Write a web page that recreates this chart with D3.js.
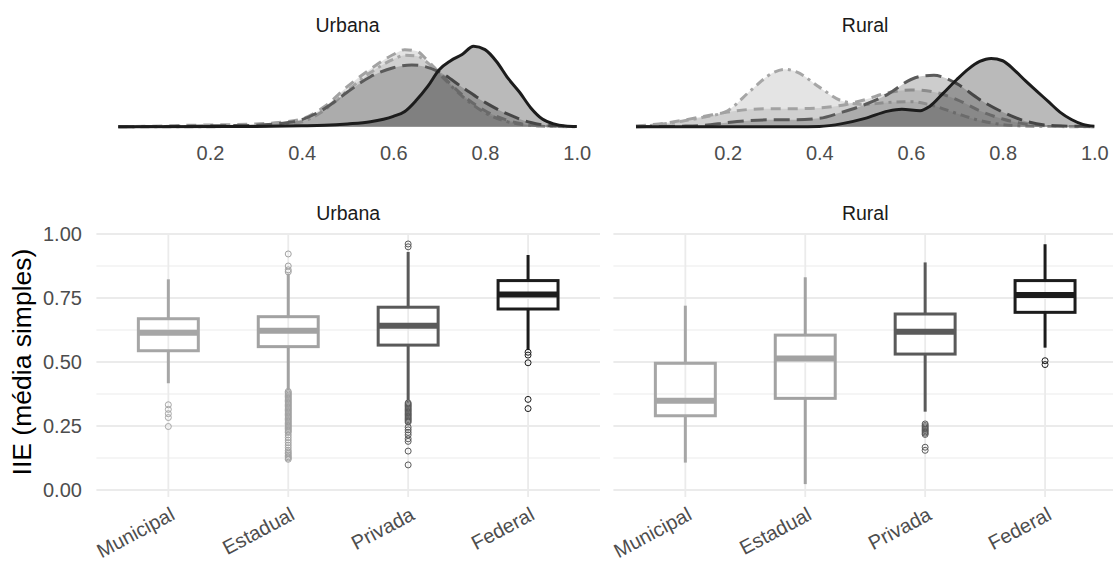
<!DOCTYPE html>
<html>
<head>
<meta charset="utf-8">
<script src="https://cdn.jsdelivr.net/npm/d3@7"></script>
<style>
  body { margin: 0; background: #ffffff; }
  svg { display: block; }
  text { font-family: "Liberation Sans", Arial, sans-serif; }
</style>
</head>
<body>
<svg id="chart" width="1113" height="562"></svg>
<script>
// ---- dados ----
const categorias = ["Municipal", "Estadual", "Privada", "Federal"];
const facetas = ["Urbana", "Rural"];
const ticksDensidade = [0.2, 0.4, 0.6, 0.8, 1.0];
const ticksIIE = [0, 0.25, 0.5, 0.75, 1];
const gradeMenor = [0.125, 0.375, 0.625, 0.875];

// densidades estimadas do IIE: pares [IIE, densidade]
const densUrbanaMunicipal = [[0,0],[0.2,0],[0.25,0.02],[0.3,0.05],[0.35,0.12],[0.4,0.35],[0.45,1.2],[0.5,2.6],[0.55,3.9],[0.6,4.85],[0.625,5.15],[0.65,5.1],[0.675,4.6],[0.7,3.8],[0.75,2.2],[0.8,1.0],[0.85,0.35],[0.9,0.08],[0.95,0.01],[1,0]];
const densUrbanaEstadual = [[0,0.01],[0.1,0.05],[0.15,0.1],[0.2,0.12],[0.25,0.15],[0.3,0.2],[0.35,0.3],[0.4,0.55],[0.45,1.45],[0.5,2.9],[0.55,4.15],[0.6,5.2],[0.625,5.55],[0.65,5.45],[0.675,4.75],[0.7,3.9],[0.75,2.3],[0.8,1.15],[0.85,0.45],[0.9,0.12],[0.95,0.03],[1,0.01]];
const densUrbanaPrivada = [[0,0],[0.1,0.02],[0.15,0.04],[0.2,0.06],[0.25,0.08],[0.3,0.1],[0.35,0.22],[0.4,0.5],[0.45,1.3],[0.5,2.5],[0.55,3.6],[0.6,4.25],[0.64,4.45],[0.7,3.95],[0.75,2.85],[0.8,1.75],[0.85,0.9],[0.9,0.3],[0.95,0.06],[1,0.01]];
const densUrbanaFederal = [[0,0],[0.25,0.01],[0.3,0.02],[0.4,0.06],[0.45,0.1],[0.5,0.2],[0.55,0.36],[0.6,0.75],[0.625,1.1],[0.65,1.9],[0.675,2.9],[0.7,4.1],[0.725,4.75],[0.75,5.2],[0.775,5.8],[0.8,5.55],[0.825,4.7],[0.85,3.5],[0.875,2.5],[0.9,1.35],[0.925,0.55],[0.95,0.2],[0.975,0.05],[1,0.01]];

const densRuralMunicipal = [[0,0.03],[0.05,0.15],[0.1,0.4],[0.15,0.7],[0.2,1.15],[0.25,2.6],[0.3,3.9],[0.325,4.13],[0.35,3.95],[0.4,2.85],[0.45,1.85],[0.5,1.6],[0.55,1.75],[0.6,1.8],[0.65,1.5],[0.7,0.95],[0.75,0.45],[0.8,0.15],[0.85,0.04],[0.9,0.01],[1,0]];
const densRuralEstadual = [[0,0.05],[0.05,0.2],[0.1,0.45],[0.15,0.75],[0.2,1.05],[0.25,1.25],[0.3,1.3],[0.35,1.3],[0.4,1.35],[0.45,1.55],[0.5,1.95],[0.55,2.45],[0.6,2.65],[0.65,2.5],[0.7,1.95],[0.75,1.15],[0.8,0.55],[0.85,0.2],[0.9,0.06],[0.95,0.02],[1,0]];
const densRuralPrivada = [[0,0],[0.05,0.02],[0.1,0.04],[0.15,0.1],[0.2,0.3],[0.25,0.45],[0.3,0.5],[0.35,0.5],[0.4,0.6],[0.45,1.05],[0.5,1.6],[0.55,2.35],[0.6,3.4],[0.625,3.65],[0.65,3.7],[0.675,3.5],[0.7,3.1],[0.75,1.95],[0.8,1.05],[0.85,0.4],[0.9,0.1],[0.95,0.03],[1,0.01]];
const densRuralFederal = [[0,0],[0.35,0],[0.4,0.02],[0.45,0.22],[0.5,0.6],[0.55,1.12],[0.58,1.25],[0.62,1.15],[0.64,1.44],[0.67,2.4],[0.7,3.4],[0.725,4.15],[0.75,4.7],[0.775,4.92],[0.8,4.75],[0.825,4.1],[0.85,3.3],[0.875,2.55],[0.9,1.8],[0.925,1.05],[0.95,0.52],[0.975,0.17],[1,0.04]];

// estatísticas dos boxplots (Municipal, Estadual, Privada, Federal)
const urbanaMin     = [0.417, 0.39, 0.35, 0.547];
const urbanaQ1      = [0.544, 0.56, 0.566, 0.707];
const urbanaMediana = [0.614, 0.622, 0.642, 0.764];
const urbanaQ3      = [0.669, 0.677, 0.714, 0.818];
const urbanaMax     = [0.823, 0.845, 0.93, 0.918];
const urbanaOutliers = [
  [0.333, 0.315, 0.298, 0.283, 0.248],
  [0.922, 0.875, 0.86, 0.852, 0.385, 0.38, 0.375, 0.37, 0.365, 0.36, 0.355, 0.35, 0.345, 0.34, 0.335, 0.33, 0.325, 0.32, 0.315, 0.31, 0.305, 0.3, 0.295, 0.29, 0.285, 0.28, 0.275, 0.27, 0.265, 0.26, 0.255, 0.25, 0.245, 0.24, 0.235, 0.23, 0.225, 0.215, 0.205, 0.195, 0.185, 0.175, 0.165, 0.155, 0.148, 0.142, 0.136, 0.13, 0.125, 0.12],
  [0.961, 0.95, 0.34, 0.335, 0.33, 0.325, 0.32, 0.315, 0.31, 0.305, 0.3, 0.295, 0.29, 0.285, 0.28, 0.275, 0.27, 0.265, 0.245, 0.235, 0.225, 0.215, 0.2, 0.19, 0.152, 0.098],
  [0.538, 0.527, 0.497, 0.354, 0.318]
];
const ruralMin     = [0.107, 0.023, 0.306, 0.556];
const ruralQ1      = [0.29, 0.358, 0.531, 0.694];
const ruralMediana = [0.349, 0.514, 0.618, 0.762];
const ruralQ3      = [0.495, 0.605, 0.6875, 0.818];
const ruralMax     = [0.72, 0.831, 0.889, 0.96];
const ruralOutliers = [
  [],
  [],
  [0.258, 0.252, 0.247, 0.242, 0.237, 0.232, 0.227, 0.222, 0.217, 0.167, 0.155],
  [0.505, 0.49]
];

// ---- estilo ----
const corRede = d3.scaleOrdinal(categorias, ["#a6a6a6", "#a2a2a2", "#5a5a5a", "#1c1c1c"]);
const tracoRede = d3.scaleOrdinal(categorias, ["9,5,3,5", "10,7", "16,7", null]);
const corTexto = "#4d4d4d";
const corTitulo = "#1a1a1a";
const corGrade = "#ebebeb";
const fonteEixo = "20px";

const svg = d3.select("#chart");

// ---- painéis de densidade (topo) ----
const densidades = {
  Urbana: [densUrbanaMunicipal, densUrbanaEstadual, densUrbanaPrivada, densUrbanaFederal],
  Rural:  [densRuralMunicipal, densRuralEstadual, densRuralPrivada, densRuralFederal]
};
const faixaTopo = { Urbana: [118.3, 576.7], Rural: [636, 1094.3] };
const yTopo = d3.scaleLinear().domain([0, 6.1]).range([126.7, 42]);

facetas.forEach(f => {
  const x = d3.scaleLinear().domain([0, 1]).range(faixaTopo[f]);
  const g = svg.append("g");
  const area = d3.area().x(d => x(d[0])).y0(yTopo(0)).y1(d => yTopo(d[1])).curve(d3.curveMonotoneX);
  const linha = d3.line().x(d => x(d[0])).y(d => yTopo(d[1])).curve(d3.curveMonotoneX);

  densidades[f].forEach((serie, i) => {
    const cat = categorias[i];
    g.append("path").attr("d", area(serie))
      .attr("fill", corRede(cat)).attr("fill-opacity", 0.3);
    g.append("path").attr("d", linha(serie))
      .attr("fill", "none").attr("stroke", corRede(cat))
      .attr("stroke-width", 3).attr("stroke-linejoin", "round")
      .attr("stroke-dasharray", tracoRede(cat));
  });

  const eixo = g.append("g").attr("transform", `translate(0,${yTopo(0)})`)
    .call(d3.axisBottom(x).tickValues(ticksDensidade).tickFormat(d3.format(".1f"))
      .tickSize(0).tickPadding(19));
  eixo.select(".domain").remove();
  eixo.selectAll("text").attr("fill", corTexto).style("font-size", fonteEixo);

  svg.append("text").attr("x", d3.mean(faixaTopo[f])).attr("y", 25)
    .attr("text-anchor", "middle").attr("dominant-baseline", "central")
    .attr("fill", corTitulo).style("font-size", "19.5px").text(f);
});

// ---- painéis de boxplot (base) ----
const yBox = d3.scaleLinear().domain([0, 1]).range([490, 234]);
const faixaBox = { Urbana: [96.4, 600], Rural: [613.4, 1117] };
const estat = {
  Urbana: { min: urbanaMin, q1: urbanaQ1, med: urbanaMediana, q3: urbanaQ3, max: urbanaMax, out: urbanaOutliers },
  Rural:  { min: ruralMin, q1: ruralQ1, med: ruralMediana, q3: ruralQ3, max: ruralMax, out: ruralOutliers }
};

facetas.forEach(f => {
  const [x0, x1] = faixaBox[f];
  const x = d3.scalePoint().domain(categorias).range([x0, x1]).padding(0.6);
  const larguraCaixa = x.step() * 0.5;
  const g = svg.append("g");

  // grade
  g.selectAll(".gmenor").data(gradeMenor).join("line")
    .attr("x1", x0).attr("x2", Math.min(x1, 1113))
    .attr("y1", d => yBox(d)).attr("y2", d => yBox(d))
    .attr("stroke", corGrade).attr("stroke-width", 1.1);
  g.selectAll(".gmaior").data(ticksIIE).join("line")
    .attr("x1", x0).attr("x2", Math.min(x1, 1113))
    .attr("y1", d => yBox(d)).attr("y2", d => yBox(d))
    .attr("stroke", corGrade).attr("stroke-width", 1.8);
  g.selectAll(".gvert").data(categorias).join("line")
    .attr("x1", d => x(d)).attr("x2", d => x(d))
    .attr("y1", yBox(1)).attr("y2", yBox(-0.027))
    .attr("stroke", corGrade).attr("stroke-width", 1.8);

  const s = estat[f];
  categorias.forEach((cat, i) => {
    const cx = x(cat);
    const cor = corRede(cat);
    // bigodes
    g.append("line").attr("x1", cx).attr("x2", cx)
      .attr("y1", yBox(s.q3[i])).attr("y2", yBox(s.max[i]))
      .attr("stroke", cor).attr("stroke-width", 3);
    g.append("line").attr("x1", cx).attr("x2", cx)
      .attr("y1", yBox(s.q1[i])).attr("y2", yBox(s.min[i]))
      .attr("stroke", cor).attr("stroke-width", 3);
    // caixa
    g.append("rect").attr("x", cx - larguraCaixa / 2).attr("width", larguraCaixa)
      .attr("y", yBox(s.q3[i])).attr("height", yBox(s.q1[i]) - yBox(s.q3[i]))
      .attr("fill", "none").attr("stroke", cor).attr("stroke-width", 3);
    // mediana
    g.append("line").attr("x1", cx - larguraCaixa / 2).attr("x2", cx + larguraCaixa / 2)
      .attr("y1", yBox(s.med[i])).attr("y2", yBox(s.med[i]))
      .attr("stroke", cor).attr("stroke-width", 6);
    // outliers
    g.selectAll(null).data(s.out[i]).join("circle")
      .attr("cx", cx).attr("cy", d => yBox(d)).attr("r", 3)
      .attr("fill", "none").attr("stroke", cor).attr("stroke-width", 1);
  });

  // rótulos do eixo x
  g.selectAll(".rotx").data(categorias).join("text")
    .attr("transform", d => `translate(${x(d) + 1},${506}) rotate(-28)`)
    .attr("text-anchor", "end").attr("dominant-baseline", "hanging")
    .attr("fill", corTexto).style("font-size", fonteEixo).text(d => d);

  // título da faceta
  svg.append("text").attr("x", (x0 + x1) / 2).attr("y", 213)
    .attr("text-anchor", "middle").attr("dominant-baseline", "central")
    .attr("fill", corTitulo).style("font-size", "19.5px").text(f);

  if (f === "Urbana") {
    const eixoY = g.append("g").attr("transform", `translate(${x0},0)`)
      .call(d3.axisLeft(yBox).tickValues(ticksIIE).tickFormat(d3.format(".2f"))
        .tickSize(0).tickPadding(14.5));
    eixoY.select(".domain").remove();
    eixoY.selectAll("text").attr("fill", corTexto).style("font-size", fonteEixo);
  }
});

// título do eixo y
svg.append("text")
  .attr("transform", `translate(22,${(yBox(0) + yBox(1)) / 2}) rotate(-90)`)
  .attr("text-anchor", "middle").attr("dominant-baseline", "central")
  .attr("fill", "#000000").style("font-size", "26.5px").text("IIE (média simples)");
</script>
</body>
</html>
